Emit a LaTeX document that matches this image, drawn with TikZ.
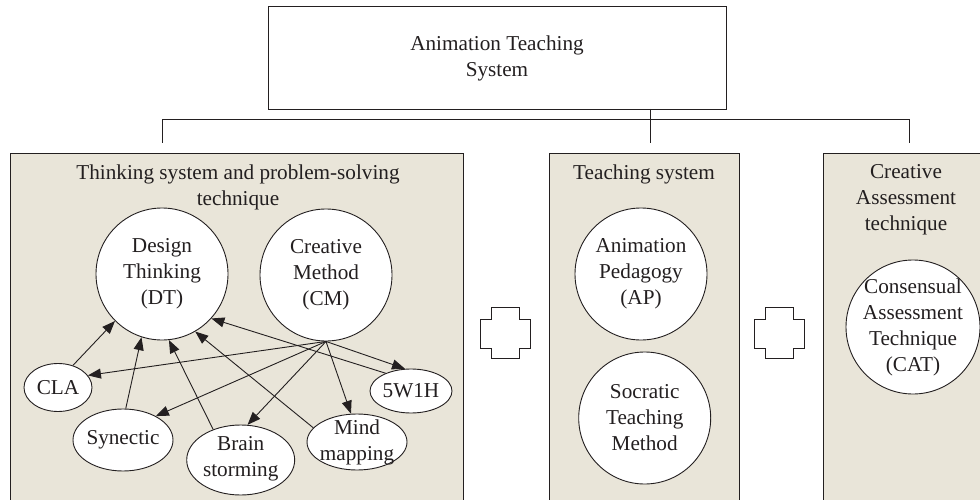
\documentclass[tikz,border=0pt]{standalone}
\usepackage{fontspec}
\setmainfont{Liberation Serif}
\usetikzlibrary{arrows.meta,shapes.geometric}
\definecolor{panelfill}{HTML}{E9E5D9}
\definecolor{inkline}{HTML}{231F20}
\tikzset{
  every node/.style={font=\fontsize{21.2}{26}\selectfont, text=inkline},
  frame/.style={draw=inkline, line width=0.9pt},
  panel/.style={frame, fill=panelfill},
  bigcircle/.style={frame, fill=white, circle, minimum size=132pt, inner sep=-20pt, align=center},
  oval/.style={frame, fill=white, ellipse, inner sep=-20pt, align=center},
  txt/.style={align=center, inner sep=0pt},
  link/.style={draw=inkline, line width=0.9pt, -{Triangle[length=13pt,width=10pt]}},
  bracketline/.style={draw=inkline, line width=0.9pt},
  plusmark/.style={frame, fill=white}
}
\begin{document}
\begin{tikzpicture}[x=1pt, y=-1pt]
\useasboundingbox (0,0) rectangle (980,500);
\clip (0,0) rectangle (980,500);

% top box
\node[frame, minimum width=458pt, minimum height=103pt, inner sep=0pt] (top) at (497,57.5) {};
\node[txt] (toptext) at (497,58) {Animation Teaching\\System};

% bracket joining the three groups
\coordinate (bl) at (162,119);
\coordinate (br) at (909,119);
\coordinate (dl) at (162,143);
\coordinate (dm) at (650,143);
\coordinate (dr) at (909,143);
\coordinate (tm) at (650,109);
\draw[bracketline] (dl) -- (bl) -- (br) -- (dr);
\draw[bracketline] (tm) -- (dm);

% panels
\path[panel] (10,153) rectangle (463,520);
\path[panel] (549,153) rectangle (739,520);
\path[panel] (823,153) rectangle (1000,520);

\node[txt] (ptitle1) at (238,187) {Thinking system and problem-solving\\technique};
\node[txt] (ptitle2) at (644,174) {Teaching system};
\node[txt] (ptitle3) at (906,200) {Creative\\Assessment\\technique};

% plus signs between panels
\foreach \cx in {505, 779}{
  \path[plusmark] (\cx-25,319) -- (\cx-14,319) -- (\cx-14,307) -- (\cx+14,307) -- (\cx+14,319)
    -- (\cx+25,319) -- (\cx+25,348) -- (\cx+14,348) -- (\cx+14,358) -- (\cx-14,358)
    -- (\cx-14,348) -- (\cx-25,348) -- cycle;
}

% thinking system
\node[bigcircle] (DT) at (162,274) {Design\\Thinking\\(DT)};
\node[bigcircle] (CM) at (326,275) {Creative\\Method\\(CM)};
\node[oval, minimum width=68pt, minimum height=48pt] (CLA) at (58,387.5) {CLA};
\node[oval, minimum width=82pt, minimum height=44pt] (FW) at (411,391) {5W1H};
\node[oval, minimum width=100pt, minimum height=62pt] (SYN) at (123,440) {Synectic};
\node[oval, minimum width=108pt, minimum height=70pt] (BS) at (240.7,460) {};
\node[txt] (bstext) at (240.7,459) {Brain\\storming};
\node[oval, minimum width=100pt, minimum height=56pt] (MM) at (357,442) {Mind\\mapping};

\draw[link] (CLA.56) -- (DT.-135.6);
\draw[link] (SYN.85) -- (DT.-108.4);
\draw[link] (BS.132) -- (DT.-84.9);
\draw[link] (MM.162) -- (DT.-60.2);
\draw[link] (FW.145) -- (DT.-42.6);

\draw[link] (CM.south) -- (CLA.22.5);
\draw[link] (CM.south) -- (SYN.36);
\draw[link] (CM.south) -- (BS.79);
\draw[link] (CM.south) -- (MM.102);
\draw[link] (CM.south) -- (FW.105);

% teaching system
\node[bigcircle] (AP) at (641,274) {Animation\\Pedagogy\\(AP)};
\node[bigcircle] (STM) at (644.7,418) {Socratic\\Teaching\\Method};

% assessment
\node[bigcircle, minimum size=134pt] (CAT) at (913,327) {Consensual\\Assessment\\Technique\\(CAT)};
\end{tikzpicture}
\end{document}
